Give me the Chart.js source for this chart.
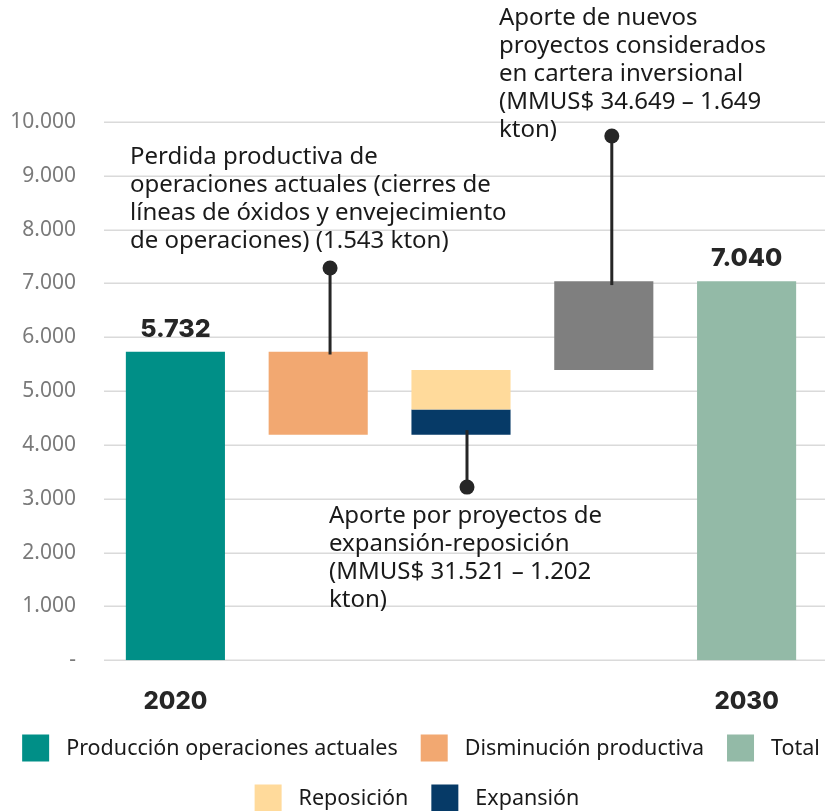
<!DOCTYPE html>
<html>
<head>
<meta charset="utf-8">
<script src="https://cdn.jsdelivr.net/npm/chart.js@4.4.1/dist/chart.umd.min.js"></script>
<style>
  html, body { margin: 0; padding: 0; background: #ffffff; }
  #wrap { width: 825px; height: 811px; }
</style>
</head>
<body>
<div id="wrap"><canvas id="chart" width="825" height="811"></canvas></div>
<script>
// Categories on the x axis (only the end years carry a label)
const categories = ['2020', '', '', '', '2030'];

// Floating bars [from, to] in kton of copper
const produccionActual = [[0, 5732], null, null, null, null];
const disminucion      = [null, [4189, 5732], null, null, null];
const reposicion       = [null, null, [4660, 5391], null, null];
const expansion        = [null, null, [4189, 4660], null, null];
const nuevosProyectos  = [null, null, null, [5391, 7040], null];
const total            = [null, null, null, null, [0, 7040]];

// Y axis tick labels, 0 to 10.000 every 1.000
const yTickLabels = ['-', '1.000', '2.000', '3.000', '4.000', '5.000',
                     '6.000', '7.000', '8.000', '9.000', '10.000'];

// Callouts: category, horizontal nudge (fraction of a category), dot value, line end value
const calloutCategory = [1, 2, 3];
const calloutNudge    = [0.083, 0.042, 0.056];
const calloutDot      = [7286, 3216, 9740];
const calloutEnd      = [5680, 4275, 6970];
const calloutText = [
  ['Perdida productiva de', 'operaciones actuales (cierres de',
   'líneas de óxidos y envejecimiento', 'de operaciones) (1.543 kton)'],
  ['Aporte por proyectos de', 'expansión-reposición',
   '(MMUS$ 31.521 – 1.202', 'kton)'],
  ['Aporte de nuevos', 'proyectos considerados', 'en cartera inversional',
   '(MMUS$ 34.649 – 1.649', 'kton)']
];
// Where each callout text block starts (left x, centre of first line)
const calloutTextPos = [[130, 157], [329, 516], [499, 18]];

const COLORS = {
  actual: '#008F87',
  baja: '#F2A871',
  total: '#93BAA7',
  repo: '#FFDA9B',
  expa: '#063A67',
  nuevo: '#7F7F7F'
};

const fmt = v => v.toLocaleString('de-DE');

// Grid lines, extended to the right edge of the canvas
const gridPlugin = {
  id: 'gridLines',
  beforeDatasetsDraw(chart) {
    const { ctx, scales: { y }, chartArea } = chart;
    ctx.save();
    ctx.strokeStyle = '#dadada';
    ctx.lineWidth = 1.5;
    y.ticks.forEach(t => {
      const py = Math.round(y.getPixelForValue(t.value)) + 0.25;
      ctx.beginPath();
      ctx.moveTo(chartArea.left, py);
      ctx.lineTo(chart.width, py);
      ctx.stroke();
    });
    ctx.restore();
  }
};

// Bold value labels above the start and end bars
const valueLabelPlugin = {
  id: 'valueLabels',
  afterDatasetsDraw(chart) {
    const { ctx } = chart;
    ctx.save();
    ctx.font = '800 25px Inter, "Noto Sans", sans-serif';
    ctx.fillStyle = '#262626';
    ctx.textAlign = 'center';
    ctx.textBaseline = 'alphabetic';
    [[0, 0], [2, 4]].forEach(([di, idx]) => {
      const el = chart.getDatasetMeta(di).data[idx];
      const val = chart.data.datasets[di].data[idx][1];
      ctx.fillText(fmt(val), el.x, el.y - 15);
    });
    ctx.restore();
  }
};

// Callout lines with dots and their explanatory text
const calloutPlugin = {
  id: 'callouts',
  afterDatasetsDraw(chart) {
    const { ctx, scales: { x, y } } = chart;
    const catW = x.getPixelForValue(1) - x.getPixelForValue(0);
    ctx.save();
    calloutCategory.forEach((cat, i) => {
      const px = x.getPixelForValue(cat) + calloutNudge[i] * catW;
      const yd = y.getPixelForValue(calloutDot[i]);
      const ye = y.getPixelForValue(calloutEnd[i]);
      ctx.strokeStyle = '#262626';
      ctx.lineWidth = 3;
      ctx.beginPath();
      ctx.moveTo(px, yd);
      ctx.lineTo(px, ye);
      ctx.stroke();
      ctx.fillStyle = '#262626';
      ctx.beginPath();
      ctx.arc(px, yd, 7.5, 0, Math.PI * 2);
      ctx.fill();

      ctx.font = '24px "Noto Sans", "Open Sans", sans-serif';
      ctx.fillStyle = '#1a1a1a';
      ctx.textAlign = 'left';
      ctx.textBaseline = 'middle';
      const [tx, ty] = calloutTextPos[i];
      calloutText[i].forEach((line, k) => ctx.fillText(line, tx, ty + k * 28));
    });
    ctx.restore();
  }
};

// Two-row legend under the chart
const legendRows = [[0, 1, 2], [3, 4]];
const legendPlugin = {
  id: 'customLegend',
  afterDraw(chart) {
    const { ctx } = chart;
    const box = 27, gap = 17, spacing = 23;
    const rowY = [748, 798];
    const rowCenter = [421, 417];
    ctx.save();
    ctx.font = '21.5px "Noto Sans", "Open Sans", sans-serif';
    ctx.textBaseline = 'middle';
    ctx.textAlign = 'left';
    legendRows.forEach((row, r) => {
      const items = row.map(di => {
        const ds = chart.data.datasets[di];
        return { label: ds.label, color: ds.backgroundColor, w: ctx.measureText(ds.label).width };
      });
      const totalW = items.reduce((s, it) => s + box + gap + it.w, 0) + spacing * (items.length - 1);
      let cx = rowCenter[r] - totalW / 2;
      items.forEach(it => {
        ctx.fillStyle = it.color;
        ctx.fillRect(cx, rowY[r] - box / 2, box, box);
        ctx.fillStyle = '#1a1a1a';
        ctx.fillText(it.label, cx + box + gap, rowY[r] + 1);
        cx += box + gap + it.w + spacing;
      });
    });
    ctx.restore();
  }
};

const barOpts = { grouped: false, barPercentage: 0.694, categoryPercentage: 1.0, borderWidth: 0 };

new Chart(document.getElementById('chart'), {
  type: 'bar',
  data: {
    labels: categories,
    datasets: [
      { label: 'Producción operaciones actuales', data: produccionActual, backgroundColor: COLORS.actual, ...barOpts },
      { label: 'Disminución productiva', data: disminucion, backgroundColor: COLORS.baja, ...barOpts },
      { label: 'Total', data: total, backgroundColor: COLORS.total, ...barOpts },
      { label: 'Reposición', data: reposicion, backgroundColor: COLORS.repo, ...barOpts },
      { label: 'Expansión', data: expansion, backgroundColor: COLORS.expa, ...barOpts },
      { label: 'Nuevos proyectos', data: nuevosProyectos, backgroundColor: COLORS.nuevo, ...barOpts }
    ]
  },
  options: {
    responsive: false,
    devicePixelRatio: 1,
    animation: false,
    layout: { padding: { left: 0, right: 7, top: 122, bottom: 68 } },
    plugins: {
      legend: { display: false },
      tooltip: { enabled: false }
    },
    scales: {
      x: {
        grid: { display: false, drawTicks: false },
        border: { display: false },
        ticks: {
          padding: 27,
          color: '#262626',
          font: { family: 'Inter, "Noto Sans", sans-serif', size: 24, weight: '800' }
        }
      },
      y: {
        min: 0,
        max: 10000,
        afterFit(scale) { scale.width = 104; },
        grid: { display: false, drawTicks: false },
        border: { display: false },
        ticks: {
          stepSize: 1000,
          padding: 28,
          color: '#7a7a7a',
          font: { family: '"Noto Sans", "Open Sans", sans-serif', size: 21 },
          callback: (v, i) => yTickLabels[i]
        }
      }
    }
  },
  plugins: [gridPlugin, valueLabelPlugin, calloutPlugin, legendPlugin]
});
</script>
</body>
</html>
